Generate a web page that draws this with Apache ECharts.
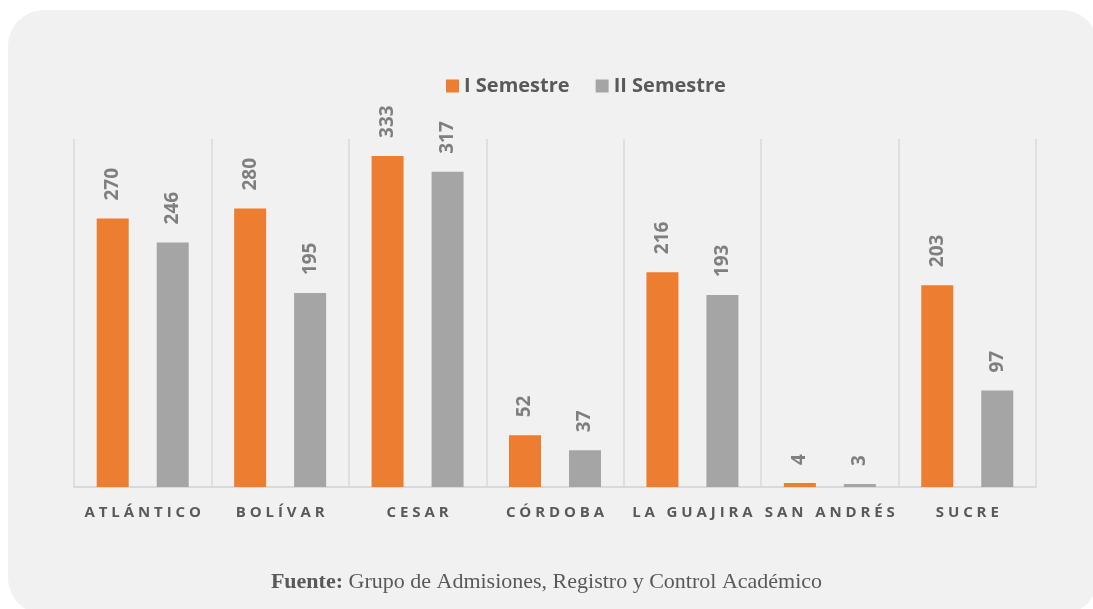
<!DOCTYPE html>
<html>
<head>
<meta charset="utf-8">
<script src="https://cdn.jsdelivr.net/npm/echarts@6/dist/echarts.min.js"></script>
<style>html,body{margin:0;padding:0;background:#fff;}#c{width:1093px;height:609px;}</style>
</head>
<body>
<div id="c"></div>
<script>
const categories = ['ATLÁNTICO', 'BOLÍVAR', 'CESAR', 'CÓRDOBA', 'LA GUAJIRA', 'SAN ANDRÉS', 'SUCRE'];
const semestre1 = [270, 280, 333, 52, 216, 4, 203];
const semestre2 = [246, 195, 317, 37, 193, 3, 97];
const seriesNames = ['I Semestre', 'II Semestre'];
const sourceLabel = 'Fuente:';
const sourceText = 'Grupo de Admisiones, Registro y Control Académico';

const chart = echarts.init(document.getElementById('c'), null, {renderer: 'canvas'});
const labelStyle = {
  show: true, position: 'top', rotate: 90, align: 'left', verticalAlign: 'middle',
  distance: 18, fontFamily: 'Open Sans', fontWeight: 'bold', fontSize: 19, color: '#7f7f7f'
};
chart.setOption({
  backgroundColor: '#ffffff',
  animation: false,
  graphic: [{
    type: 'rect', z: -10, silent: true,
    shape: {x: 8, y: 10, width: 1090, height: 604, r: 36},
    style: {fill: '#f1f1f1'}
  }],
  title: {
    text: '{b|' + sourceLabel + '} ' + sourceText,
    left: 'center', top: 566,
    textStyle: {
      fontFamily: 'Liberation Serif', fontSize: 22, fontWeight: 'normal', color: '#595959',
      rich: {b: {fontFamily: 'Liberation Serif', fontSize: 22, fontWeight: 'bold', color: '#595959'}}
    }
  },
  legend: {
    data: seriesNames, left: 441, top: 71, itemWidth: 13, itemHeight: 13, itemGap: 26,
    icon: 'rect',
    textStyle: {fontFamily: 'Open Sans', fontWeight: 'bold', fontSize: 20, color: '#595959'}
  },
  grid: {left: 74, right: 57, top: 139, bottom: 122},
  xAxis: {
    type: 'category', data: categories,
    axisLine: {lineStyle: {color: '#d9d9d9', width: 2}},
    axisTick: {show: false},
    splitLine: {show: true, interval: 0, lineStyle: {color: '#d9d9d9', width: 1.5}},
    axisLabel: {
      interval: 0, margin: 18, fontFamily: 'Open Sans', fontWeight: 'bold', fontSize: 15, color: '#595959',
      formatter: v => v.split('').map(c => c === ' ' ? ' ' : c).join(' ')
    }
  },
  yAxis: {type: 'value', min: 0, max: 350, show: false, splitLine: {show: false}},
  series: [
    {name: seriesNames[0], type: 'bar', data: semestre1, barWidth: 32, barGap: '87.5%',
     itemStyle: {color: '#ed7d31'}, label: labelStyle},
    {name: seriesNames[1], type: 'bar', data: semestre2, barWidth: 32,
     itemStyle: {color: '#a5a5a5'}, label: labelStyle}
  ]
});
</script>
</body>
</html>
